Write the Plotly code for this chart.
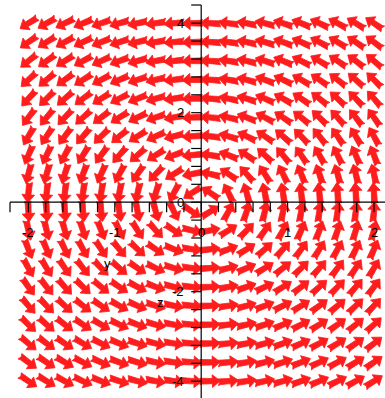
import numpy as np
import plotly.graph_objects as go

# ---- data ----
# grid of the direction field (horizontal variable y, vertical variable z)
y_grid = np.linspace(-2.0, 2.0, 20)
z_grid = np.linspace(-4.0, 4.0, 20)
# linear system  y' = a_yz * z ,  z' = a_zy * y
a_yz = -1.0
a_zy = 2.5

x_tick_vals = [round(-2 + 0.2 * i, 2) for i in range(21)]
z_tick_vals = [round(-4 + 0.4 * i, 2) for i in range(21)]
x_label_vals = [-2, -1, 0, 1, 2]
x_label_text = ["-2", "-1", "0", "1", "2"]
z_label_vals = [4, 2, 0, -2, -4]
z_label_text = ["4", "2", "0", "-2", "-4"]

# ---- geometry (pixels per unit) ----
W, H = 385, 398
SX, SY = 86.4, 44.75
OX, OY = 201.2, 202.2  # pixel position of origin
x0, x1 = -OX / SX, (W - OX) / SX
y1, y0 = OY / SY, -(H - OY) / SY

RED = "rgb(255,28,28)"

# arrow shape in pixel units (s along, t across)
L2 = 10.0
HB = 2.0
SW = 2.6
shape = [(-L2 - 0.5, -3.3), (-L2 + 2.0, -SW), (HB, -SW), (HB, -6.4), (L2, 0.0), (HB, 6.4),
         (HB, SW), (-L2 + 2.0, SW), (-L2 - 0.5, 3.3), (-L2 + 1.0, 0.0), (-L2 - 0.5, -3.3)]

ax, az = [], []
for yv in y_grid:
    for zv in z_grid:
        dy = a_yz * zv
        dz = a_zy * yv
        px, py = dy * SX, dz * SY
        n = np.hypot(px, py)
        if n == 0:
            continue
        ux, uy = px / n, py / n
        vx, vy = -uy, ux
        for s, t in shape:
            ox = s * ux + t * vx
            oy = s * uy + t * vy
            ax.append(yv + ox / SX)
            az.append(zv + oy / SY)
        ax.append(None)
        az.append(None)

fig = go.Figure()
fig.add_trace(go.Scatter(x=ax, y=az, mode="lines", fill="toself", fillcolor=RED,
                         line=dict(color=RED, width=0.8), hoverinfo="skip", showlegend=False))

# axes
fig.add_trace(go.Scatter(x=[10 / SX - OX / SX, x1], y=[0, 0], mode="lines",
                         line=dict(color="black", width=1.2), hoverinfo="skip", showlegend=False))
fig.add_trace(go.Scatter(x=[0, 0], y=[(OY - 5) / SY, y0], mode="lines",
                         line=dict(color="black", width=1.2), hoverinfo="skip", showlegend=False))

tx, tz = [], []
xt_len = 10 / SY
for v in x_tick_vals + [(10 - OX) / SX]:
    tx += [v, v, None]
    tz += [0, -xt_len, None]
zt_len = 10 / SX
for v in z_tick_vals + [(OY - 5) / SY]:
    tx += [0, -zt_len, None]
    tz += [v, v, None]
fig.add_trace(go.Scatter(x=tx, y=tz, mode="lines", line=dict(color="black", width=1.2),
                         hoverinfo="skip", showlegend=False))

font = dict(family="Liberation Sans, Arial, sans-serif", size=13, color="black")
for v, t in zip(x_label_vals, x_label_text):
    fig.add_annotation(x=v, y=-(232 - OY) / SY, text=t, showarrow=False, font=font,
                       xanchor="center", yanchor="middle")
for v, t in zip(z_label_vals, z_label_text):
    fig.add_annotation(x=(186 - OX) / SX, y=v, text=t, showarrow=False, font=font,
                       xanchor="right", yanchor="middle")
fig.add_annotation(x=(107 - OX) / SX, y=-(263 - OY) / SY, text="y", showarrow=False, font=font)
fig.add_annotation(x=(160 - OX) / SX, y=-(302 - OY) / SY, text="z", showarrow=False, font=font)

fig.update_layout(width=W, height=H, autosize=False,
                  margin=dict(l=0, r=0, t=0, b=0, pad=0),
                  paper_bgcolor="white", plot_bgcolor="white",
                  xaxis=dict(range=[x0, x1], visible=False, fixedrange=True),
                  yaxis=dict(range=[y0, y1], visible=False, fixedrange=True))
fig.write_html("out.html", config={"displayModeBar": False},
               post_script="document.body.style.margin='0px';document.body.style.padding='0px';")
